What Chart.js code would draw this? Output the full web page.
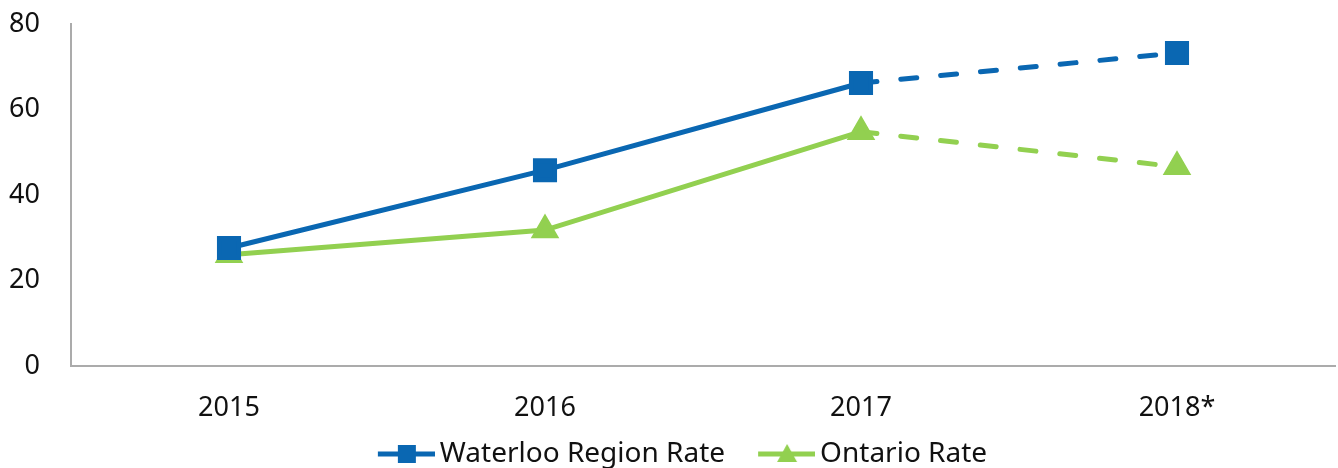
<!DOCTYPE html>
<html>
<head>
<meta charset="utf-8">
<script src="https://cdn.jsdelivr.net/npm/chart.js@4"></script>
<style>
  body { margin: 0; background: #fff; }
  #caja { width: 1338px; height: 468px; }
</style>
</head>
<body>
<div id="caja"><canvas id="grafico"></canvas></div>
<script>
/* ----- Datos ----- */
const years = ["2015", "2016", "2017", "2018*"];
const waterloo = [27.6, 45.8, 66.2, 73.2];
const ontario = [26.0, 31.8, 54.8, 46.6];
const yTicks = [0, 20, 40, 60, 80];

const azul = "#0a67b2";
const verde = "#92d050";
const fuente = "'Noto Sans', 'Open Sans', sans-serif";

/* ----- Simbolo de leyenda: linea con marcador ----- */
function simbolo(color, forma) {
    const c = document.createElement("canvas");
    c.width = 96; c.height = 24;
    const g = c.getContext("2d");
    g.strokeStyle = color; g.fillStyle = color; g.lineWidth = 5;
    g.beginPath(); g.moveTo(39, 12); g.lineTo(96, 12); g.stroke();
    const cx = 68;
    if (forma === "rect") {
        g.fillRect(cx - 9, 3, 18, 18);
    } else {
        g.beginPath(); g.moveTo(cx, 2); g.lineTo(cx + 10, 20); g.lineTo(cx - 10, 20); g.closePath(); g.fill();
    }
    return c;
}
const iconos = [simbolo(azul, "rect"), simbolo(verde, "tri")];

/* tramo 2017 -> 2018* punteado */
const punteado = ctx => ctx.p0DataIndex >= 2 ? [16, 24] : undefined;

new Chart(document.getElementById("grafico"), {
    type: "line",
    data: {
        labels: years,
        datasets: [{
            label: "Waterloo Region Rate",
            data: waterloo,
            borderColor: azul, backgroundColor: azul,
            borderWidth: 5, borderCapStyle: "round",
            pointStyle: "rect", pointRadius: 13.5, pointHoverRadius: 13.5,
            segment: { borderDash: punteado }
        }, {
            label: "Ontario Rate",
            data: ontario,
            borderColor: verde, backgroundColor: verde,
            borderWidth: 5, borderCapStyle: "round",
            pointStyle: "triangle", pointRadius: 11.5, pointHoverRadius: 11.5,
            segment: { borderDash: punteado }
        }]
    },
    options: {
        responsive: true,
        maintainAspectRatio: false,
        animation: false,
        layout: { autoPadding: false, padding: { top: 24, right: 3, bottom: -10, left: 0 } },
        scales: {
            x: {
                offset: true,
                afterFit: s => { s.height = 71; },
                grid: { display: false, drawTicks: false },
                border: { color: "#ababab", width: 2 },
                ticks: { color: "#111", font: { family: fuente, size: 27 }, padding: 26 }
            },
            y: {
                min: 0, max: 80,
                afterBuildTicks: s => { s.ticks = yTicks.map(v => ({ value: v })); },
                afterFit: s => { s.width = 71; s.paddingTop = 0; s.paddingBottom = 0; },
                grid: { display: false, drawTicks: false },
                border: { color: "#ababab", width: 2 },
                ticks: { color: "#111", font: { family: fuente, size: 27 }, padding: 31 }
            }
        },
        plugins: {
            tooltip: { enabled: false },
            legend: {
                position: "bottom",
                labels: {
                    color: "#111",
                    font: { family: fuente, size: 28 },
                    usePointStyle: true,
                    pointStyleWidth: 78,
                    padding: 3,
                    generateLabels: chart => Chart.defaults.plugins.legend.labels.generateLabels(chart)
                        .map((it, i) => Object.assign(it, { pointStyle: iconos[i] }))
                }
            }
        }
    }
});
</script>
</body>
</html>
